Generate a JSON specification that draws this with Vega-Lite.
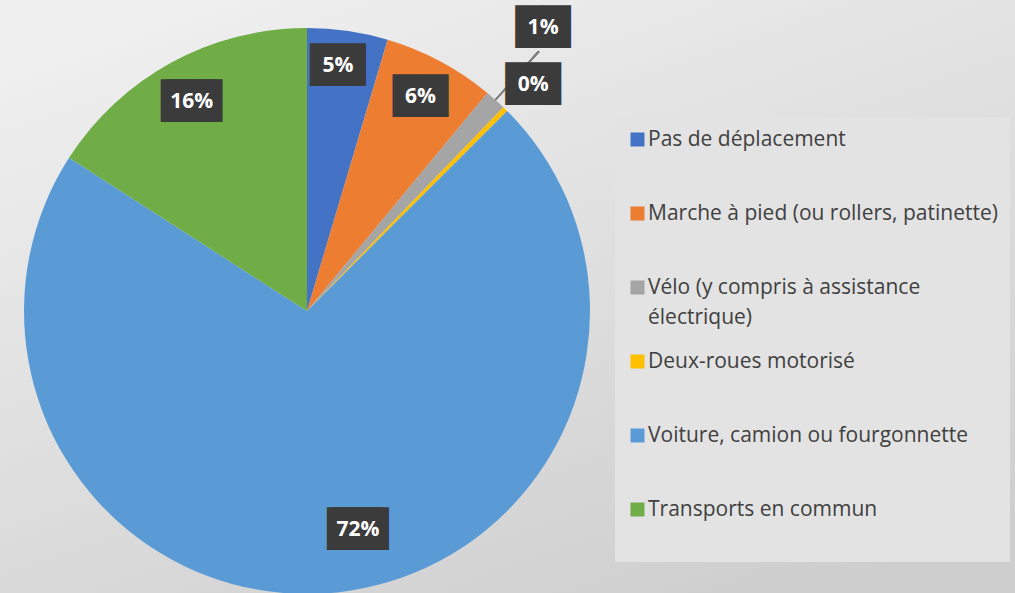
{
  "$schema": "https://vega.github.io/schema/vega-lite/v6.json",
  "width": 1015,
  "height": 593,
  "autosize": {"type": "none"},
  "padding": 0,
  "background": "#e2e2e2",
  "config": {
    "view": {
      "stroke": null,
      "fill": {"gradient": "linear", "x1": 0.2, "y1": 0, "x2": 0.8, "y2": 1,
        "stops": [{"offset": 0, "color": "#efefef"}, {"offset": 1, "color": "#cecece"}]}
    }
  },
  "data": {
    "values": [
      {"cat": "Pas de déplacement", "v": 0.046, "i": 1},
      {"cat": "Marche à pied (ou rollers, patinette)", "v": 0.064, "i": 2},
      {"cat": "Vélo (y compris à assistance électrique)", "v": 0.012, "i": 3},
      {"cat": "Deux-roues motorisé", "v": 0.003, "i": 4},
      {"cat": "Voiture, camion ou fourgonnette", "v": 0.716, "i": 5},
      {"cat": "Transports en commun", "v": 0.159, "i": 6}
    ]
  },
  "encoding": {
    "theta": {"field": "v", "type": "quantitative", "stack": true},
    "order": {"field": "i", "type": "quantitative"},
    "detail": {"field": "cat", "type": "nominal"},
    "x": {"value": 307},
    "y": {"value": 311}
  },
  "layer": [
    {
      "mark": {"type": "arc", "outerRadius": 283},
      "encoding": {
        "color": {
          "field": "cat",
          "type": "nominal",
          "scale": {
            "domain": ["Pas de déplacement", "Marche à pied (ou rollers, patinette)", "Vélo (y compris à assistance électrique)", "Deux-roues motorisé", "Voiture, camion ou fourgonnette", "Transports en commun"],
            "range": ["#4472C4", "#ED7D31", "#A5A5A5", "#FFC000", "#5B9BD5", "#70AD47"]
          },
          "legend": {
            "orient": "none",
            "legendX": 615,
            "legendY": 117,
            "title": null,
            "symbolType": "square",
            "symbolSize": 196,
            "symbolStrokeWidth": 0,
            "labelFont": "Open Sans",
            "labelFontSize": 21,
            "labelColor": "#404040",
            "labelOffset": 0,
            "labelLimit": 400,
            "padding": 12,
            "rowPadding": 22,
            "fillColor": "#e3e3e3",
            "strokeColor": null,
            "labelExpr": "datum.label == 'Vélo (y compris à assistance électrique)' ? ['Vélo (y compris à assistance', 'électrique)'] : [datum.label, '']",
            "encoding": {
              "labels": {
                "lineHeight": {"value": 30}
              }
            }
          }
        }
      }
    },
    {
      "mark": {"type": "arc", "innerRadius": 283, "outerRadius": 348, "color": "#7f7f7f"},
      "encoding": {
        "theta": {"datum": 0.1156, "type": "quantitative"},
        "theta2": {"datum": 0.1164}
      }
    },
    {
      "mark": {"type": "text", "radius": 243, "dx": -4, "dy": -5, "font": "DejaVu Sans", "fontSize": 36, "align": "center", "baseline": "middle", "color": "#3b3b3b"},
      "encoding": {"text": {"condition": {"test": "datum.cat == 'Pas de déplacement'", "value": "██"}, "value": ""}}
    },
    {
      "mark": {"type": "text", "radius": 243, "dx": -4, "dy": -5, "font": "Open Sans", "fontSize": 21, "fontWeight": "bold", "align": "center", "baseline": "middle", "color": "#ffffff"},
      "encoding": {"text": {"condition": {"test": "datum.cat == 'Pas de déplacement'", "field": "v", "type": "quantitative", "format": ".0%"}, "value": ""}}
    },
    {
      "mark": {"type": "text", "radius": 243, "dx": -1, "dy": 0, "font": "DejaVu Sans", "fontSize": 36, "align": "center", "baseline": "middle", "color": "#3b3b3b"},
      "encoding": {"text": {"condition": {"test": "datum.cat == 'Marche à pied (ou rollers, patinette)'", "value": "██"}, "value": ""}}
    },
    {
      "mark": {"type": "text", "radius": 243, "dx": -1, "dy": 0, "font": "Open Sans", "fontSize": 21, "fontWeight": "bold", "align": "center", "baseline": "middle", "color": "#ffffff"},
      "encoding": {"text": {"condition": {"test": "datum.cat == 'Marche à pied (ou rollers, patinette)'", "field": "v", "type": "quantitative", "format": ".0%"}, "value": ""}}
    },
    {
      "mark": {"type": "text", "radius": 243, "dx": -2, "dy": 4, "font": "DejaVu Sans", "fontSize": 36, "align": "center", "baseline": "middle", "color": "#3b3b3b"},
      "encoding": {"text": {"condition": {"test": "datum.cat == 'Transports en commun'", "value": "██"}, "value": ""}}
    },
    {
      "mark": {"type": "text", "radius": 243, "dx": 4, "dy": 4, "font": "DejaVu Sans", "fontSize": 36, "align": "center", "baseline": "middle", "color": "#3b3b3b"},
      "encoding": {"text": {"condition": {"test": "datum.cat == 'Transports en commun'", "value": "██"}, "value": ""}}
    },
    {
      "mark": {"type": "text", "radius": 243, "dx": 1, "dy": 4, "font": "Open Sans", "fontSize": 21, "fontWeight": "bold", "align": "center", "baseline": "middle", "color": "#ffffff"},
      "encoding": {"text": {"condition": {"test": "datum.cat == 'Transports en commun'", "field": "v", "type": "quantitative", "format": ".0%"}, "value": ""}}
    },
    {
      "mark": {"type": "text", "radius": 224, "dx": 24, "dy": -4, "font": "DejaVu Sans", "fontSize": 36, "align": "center", "baseline": "middle", "color": "#3b3b3b"},
      "encoding": {"text": {"condition": {"test": "datum.cat == 'Voiture, camion ou fourgonnette'", "value": "██"}, "value": ""}}
    },
    {
      "mark": {"type": "text", "radius": 224, "dx": 30, "dy": -4, "font": "DejaVu Sans", "fontSize": 36, "align": "center", "baseline": "middle", "color": "#3b3b3b"},
      "encoding": {"text": {"condition": {"test": "datum.cat == 'Voiture, camion ou fourgonnette'", "value": "██"}, "value": ""}}
    },
    {
      "mark": {"type": "text", "radius": 224, "dx": 27, "dy": -4, "font": "Open Sans", "fontSize": 21, "fontWeight": "bold", "align": "center", "baseline": "middle", "color": "#ffffff"},
      "encoding": {"text": {"condition": {"test": "datum.cat == 'Voiture, camion ou fourgonnette'", "field": "v", "type": "quantitative", "format": ".0%"}, "value": ""}}
    },
    {
      "mark": {"type": "text", "radius": 368, "dx": -9, "dy": -8, "font": "DejaVu Sans", "fontSize": 36, "align": "center", "baseline": "middle", "color": "#3b3b3b"},
      "encoding": {"text": {"condition": {"test": "datum.cat == 'Vélo (y compris à assistance électrique)'", "value": "██"}, "value": ""}}
    },
    {
      "mark": {"type": "text", "radius": 368, "dx": -9, "dy": -8, "font": "Open Sans", "fontSize": 21, "fontWeight": "bold", "align": "center", "baseline": "middle", "color": "#ffffff"},
      "encoding": {"text": {"condition": {"test": "datum.cat == 'Vélo (y compris à assistance électrique)'", "field": "v", "type": "quantitative", "format": ".0%"}, "value": ""}}
    },
    {
      "mark": {"type": "text", "radius": 320, "dx": 2, "dy": 2, "font": "DejaVu Sans", "fontSize": 36, "align": "center", "baseline": "middle", "color": "#3b3b3b"},
      "encoding": {"text": {"condition": {"test": "datum.cat == 'Deux-roues motorisé'", "value": "██"}, "value": ""}}
    },
    {
      "mark": {"type": "text", "radius": 320, "dx": 2, "dy": 2, "font": "Open Sans", "fontSize": 21, "fontWeight": "bold", "align": "center", "baseline": "middle", "color": "#ffffff"},
      "encoding": {"text": {"condition": {"test": "datum.cat == 'Deux-roues motorisé'", "field": "v", "type": "quantitative", "format": ".0%"}, "value": ""}}
    }
  ]
}
